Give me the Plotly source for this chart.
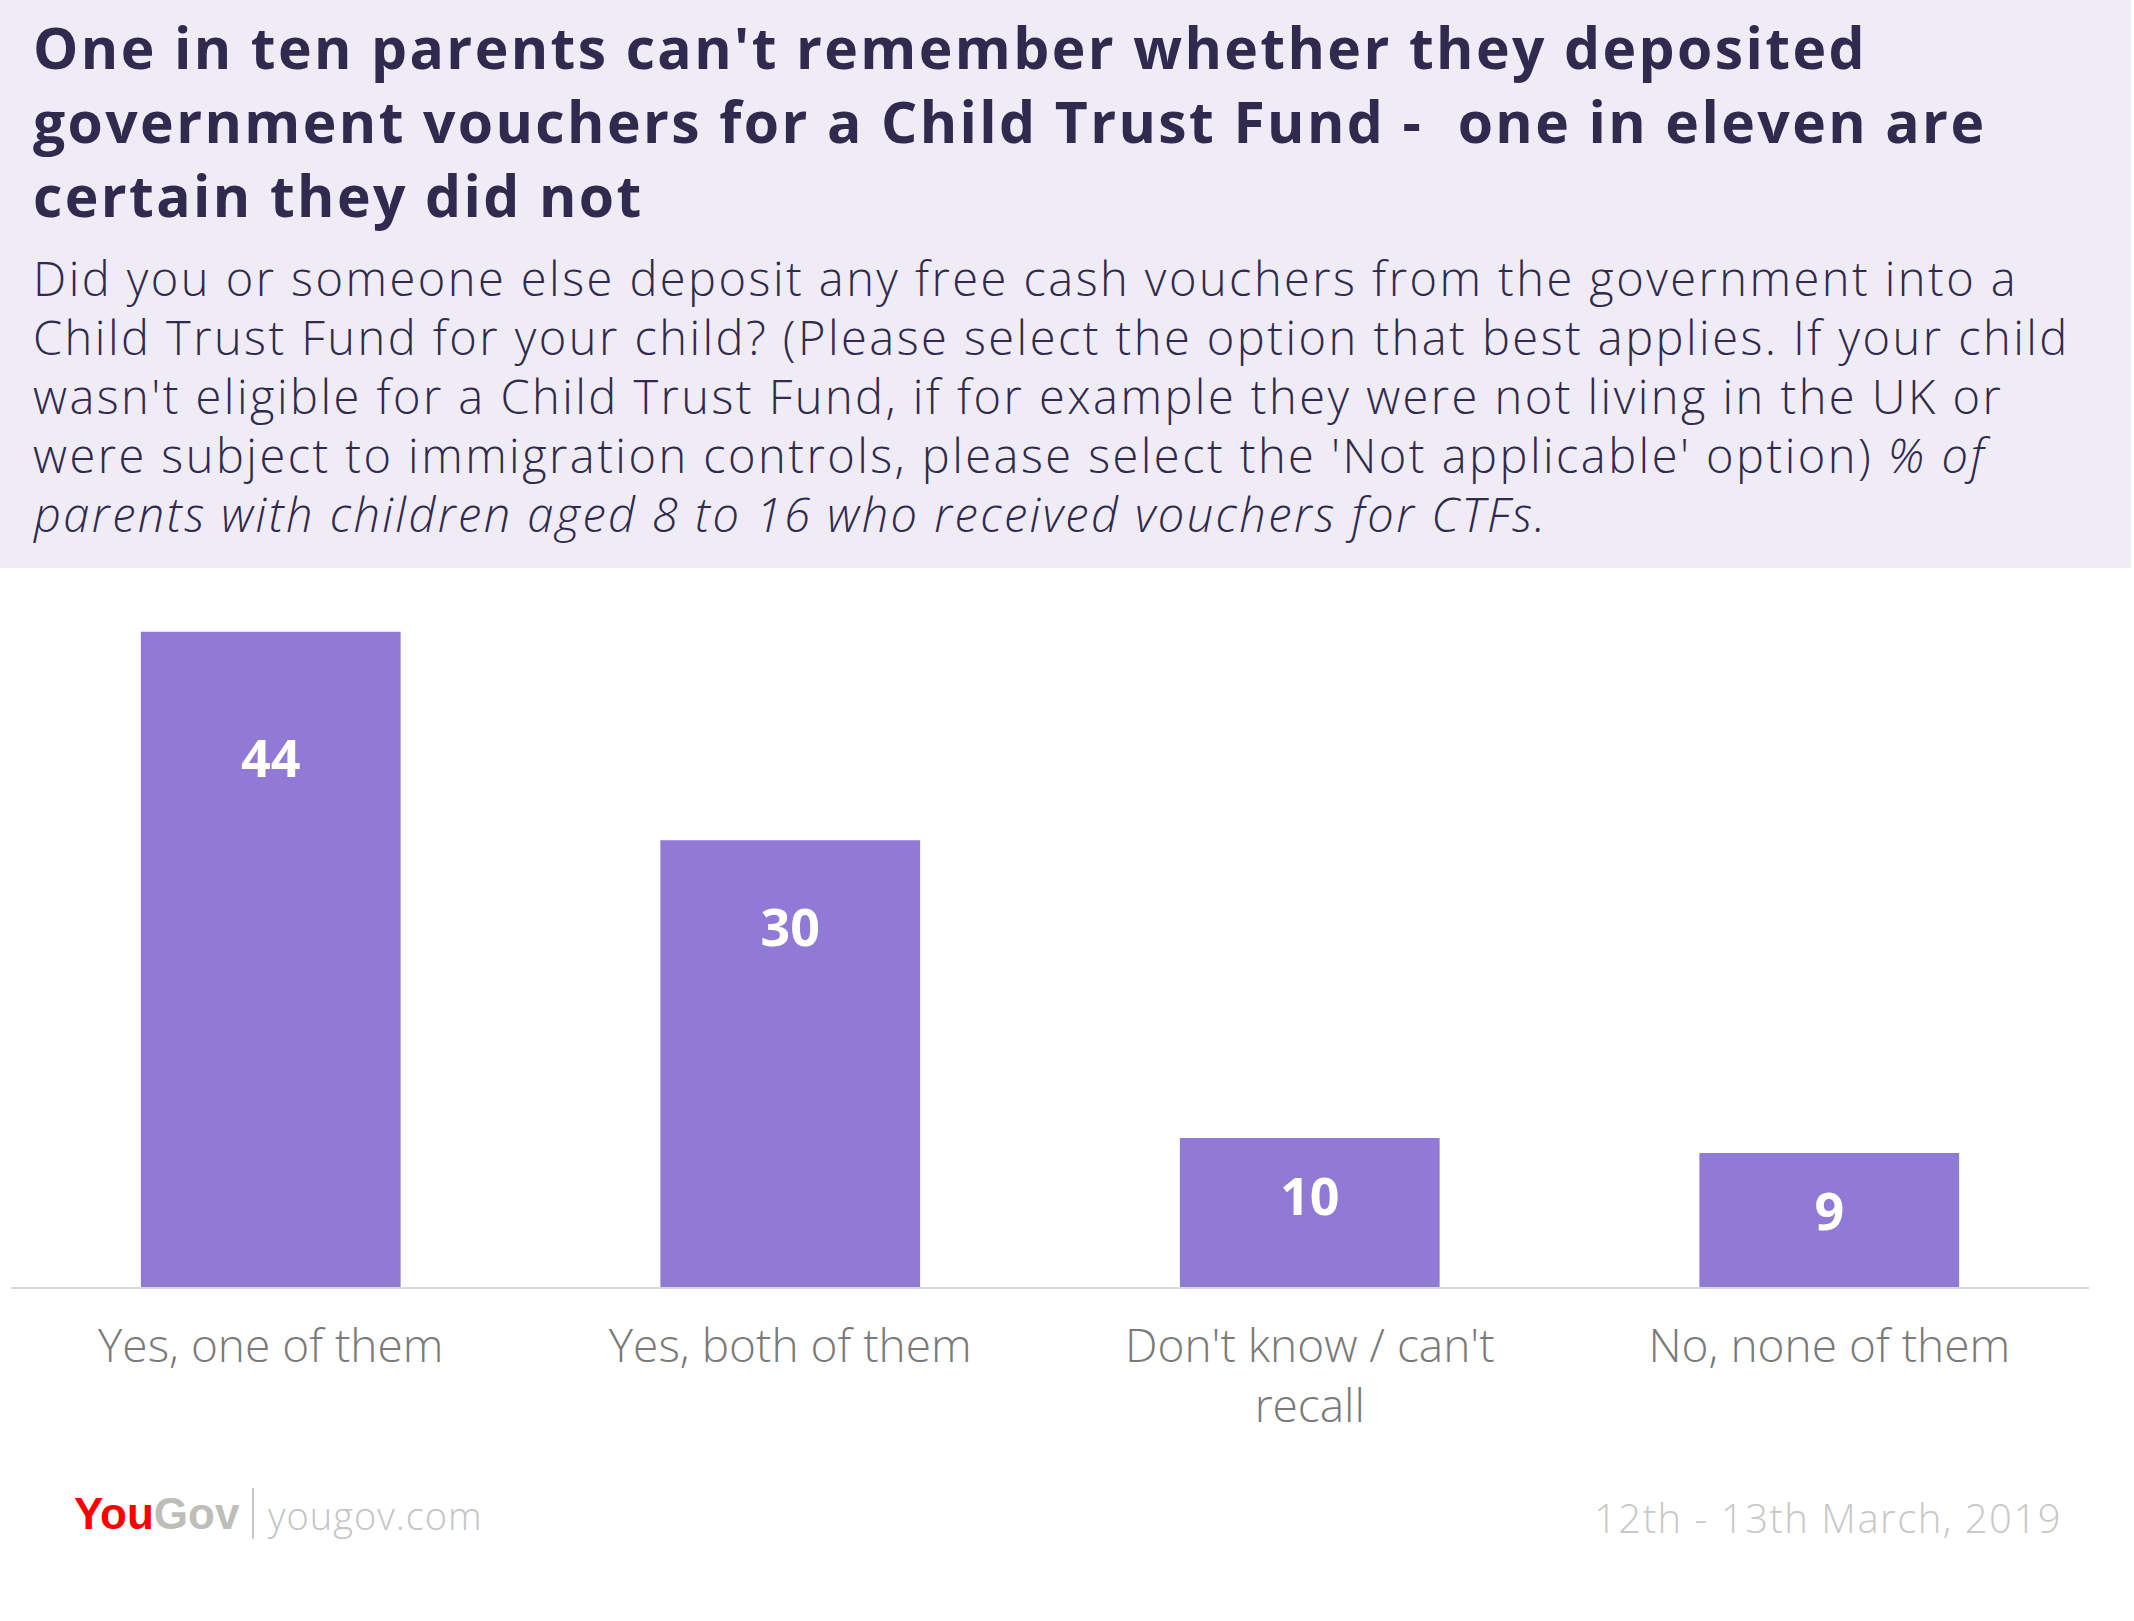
import plotly.graph_objects as go

# ---- data ----
categories = ["Yes, one of them", "Yes, both of them", "Don't know / can't<br>recall", "No, none of them"]
values = [44, 30, 10, 9]

title_lines = ["One in ten parents can't remember whether they deposited",
               "government vouchers for a Child Trust Fund -  one in eleven are",
               "certain they did not"]
subtitle_lines = ["Did you or someone else deposit any free cash vouchers from the government into a",
                  "Child Trust Fund for your child? (Please select the option that best applies. If your child",
                  "wasn't eligible for a Child Trust Fund, if for example they were not living in the UK or",
                  "were subject to immigration controls, please select the 'Not applicable' option) <i>% of</i>",
                  "<i>parents with children aged 8 to 16 who received vouchers for CTFs.</i>"]
date_text = "12th - 13th March, 2019"

# ---- layout geometry (pixels) ----
W, H = 2134, 1621
L, R = 11, 2089          # plot area left/right
T, B = 602, 1287         # plot area top/bottom
PW, PH = R - L, B - T
YMAX = 46


def px(x):
    return (x - L) / PW


def py(y):
    return (B - y) / PH


def spaced(text, s):
    return "<span style='letter-spacing:%spx'>%s</span>" % (s, text)


BAR = "#9179d6"
TITLE_C = "#2f2a4e"
FONT = "Open Sans"

label_pos = [min(v * 0.81, v - 3.8) - 0.5 for v in values]

fig = go.Figure()
fig.add_trace(go.Bar(x=categories, y=values, marker=dict(color=BAR, line=dict(width=0)),
                     hoverinfo="skip"))
fig.add_trace(go.Scatter(x=categories, y=label_pos, mode="text", text=[str(v) for v in values],
                         textposition="middle center",
                         textfont=dict(family=FONT, size=52, color="white", weight="bold"),
                         hoverinfo="skip"))

annotations = [
    dict(text="<br>".join(spaced(l, 2.4) for l in title_lines), xref="paper", yref="paper",
         x=px(31), y=py(121), xanchor="left", yanchor="middle", align="left", showarrow=False,
         font=dict(family=FONT, size=57, color=TITLE_C, weight="bold")),
]
for i, line in enumerate(subtitle_lines):
    annotations.append(dict(text=spaced(line, 2.45), xref="paper", yref="paper",
                            x=px(31), y=py(278 + i * 59), xanchor="left", yanchor="middle",
                            align="left", showarrow=False,
                            font=dict(family=FONT, size=47, color=TITLE_C, weight=300)))
annotations += [
    dict(text="<b><span style='color:#ff0000'>You</span><span style='color:#bebdb7'>Gov</span></b>",
         xref="paper", yref="paper", x=px(72), y=py(1513), xanchor="left", yanchor="middle",
         showarrow=False, font=dict(family="Liberation Sans Narrow, Liberation Sans", size=44)),
    dict(text=spaced("yougov.com", 1), xref="paper", yref="paper", x=px(266), y=py(1515),
         xanchor="left", yanchor="middle", showarrow=False,
         font=dict(family=FONT, size=38, color="#c4c4c4", weight=300)),
    dict(text=spaced(date_text, 1.5), xref="paper", yref="paper", x=px(2064), y=py(1517),
         xanchor="right", yanchor="middle", showarrow=False,
         font=dict(family=FONT, size=40, color="#c8c8c8", weight=300)),
]

fig.update_layout(
    width=W, height=H,
    margin=dict(l=L, r=W - R, t=T, b=H - B, pad=0),
    paper_bgcolor="white", plot_bgcolor="white",
    showlegend=False,
    bargap=0.5,
    font=dict(family=FONT),
    xaxis=dict(showgrid=False, zeroline=False, showline=True, linecolor="#d9d9d9", linewidth=2,
               ticks="outside", ticklen=18, tickcolor="rgba(0,0,0,0)",
               tickfont=dict(family=FONT, size=46, color="#7a7a7a", weight=300)),
    yaxis=dict(range=[0, YMAX], visible=False, showgrid=False, zeroline=False),
    shapes=[
        dict(type="rect", xref="paper", yref="paper", x0=px(0), x1=px(2131), y0=py(568), y1=py(0),
             fillcolor="#efecf6", line=dict(width=0), layer="below"),
        dict(type="line", xref="paper", yref="paper", x0=px(253), x1=px(253), y0=py(1539), y1=py(1488),
             line=dict(color="#c8c8c8", width=2)),
    ],
    annotations=annotations,
)

fig.write_html("out.html", config={"displayModeBar": False},
               post_script="document.body.style.margin='0';document.body.style.padding='0';")
